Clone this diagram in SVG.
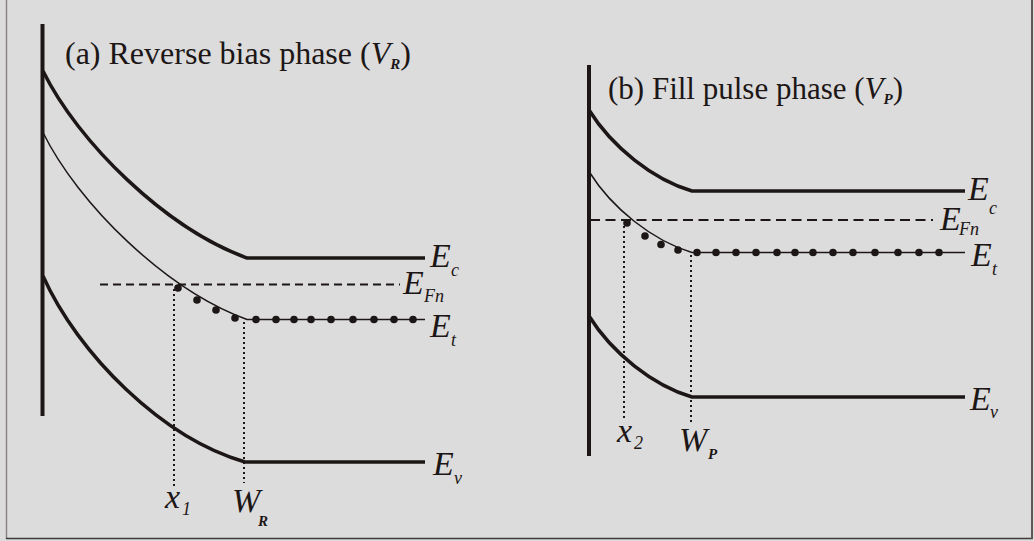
<svg xmlns="http://www.w3.org/2000/svg" width="1034" height="541" viewBox="0 0 1034 541">
<style>
.axis{stroke:#1c1716;stroke-width:4;fill:none}
.band{stroke:#1c1716;stroke-width:3.5;fill:none;stroke-linecap:butt}
.thin{stroke:#1c1716;stroke-width:1.5;fill:none}
.dash{stroke:#1c1716;stroke-width:2;fill:none}
.dot{stroke:#1c1716;stroke-width:2;fill:none;stroke-dasharray:2 3}
.trap{fill:#1c1716}
text{font-family:"Liberation Serif","Times New Roman",serif;fill:#1c1716}
.lab{font-size:34px;font-style:italic}
.sub{font-size:18px;font-style:italic}
.bsub{font-size:15px;font-style:italic;font-weight:bold}
</style>
<rect x="0" y="0" width="1034" height="541" fill="#dcdcdc"/>
<line x1="6.5" y1="0" x2="6.5" y2="539" stroke="#8a8582" stroke-width="1.5"/>
<line x1="6" y1="538.5" x2="1033" y2="538.5" stroke="#3f3a38" stroke-width="1.5"/>
<line x1="1032" y1="0" x2="1032" y2="539" stroke="#5e5856" stroke-width="2"/>

<g id="panel-a">
  <line class="axis" x1="42.5" y1="24" x2="42.5" y2="416"/>
  <path class="band" d="M43,71 C78,142 165,228 247,258 L425,258"/>
  <path class="thin" d="M43,132.5 C78,203.5 165,289.5 247,319.5 L425,319.5"/>
  <path class="band" d="M43,276 C78,354 162,438 245,462 L425,462"/>
  <line class="dash" x1="100" y1="284.5" x2="400" y2="284.5" stroke-dasharray="8 5"/>
  <line class="dot" x1="174" y1="289" x2="174" y2="486"/>
  <line class="dot" x1="244" y1="322" x2="244" y2="483"/>
  <g class="trap">
    <circle cx="178" cy="288" r="3.8"/>
    <circle cx="197" cy="300" r="3.8"/>
    <circle cx="216" cy="310" r="3.8"/>
    <circle cx="235" cy="318" r="3.8"/>
    <circle cx="256" cy="319.5" r="3.8"/>
    <circle cx="276" cy="319.5" r="3.8"/>
    <circle cx="294" cy="319.5" r="3.8"/>
    <circle cx="311" cy="319.5" r="3.8"/>
    <circle cx="331" cy="319.5" r="3.8"/>
    <circle cx="353" cy="319.5" r="3.8"/>
    <circle cx="374" cy="319.5" r="3.8"/>
    <circle cx="394" cy="319.5" r="3.8"/>
    <circle cx="413" cy="319.5" r="3.8"/>
  </g>
  <text x="65" y="63.5" font-size="32">(a) Reverse bias phase (<tspan font-style="italic">V</tspan><tspan class="bsub" dy="5">R</tspan><tspan dy="-5">)</tspan></text>
  <text class="lab" x="430" y="267">E</text><text class="sub" x="451" y="276">c</text>
  <text class="lab" x="403" y="294">E</text><text class="sub" x="424" y="302">Fn</text>
  <text class="lab" x="430" y="337">E</text><text class="sub" x="451" y="346">t</text>
  <text class="lab" x="433" y="475">E</text><text class="sub" x="454" y="484">v</text>
  <text class="lab" x="165" y="508">x</text><text class="sub" x="182" y="515">1</text>
  <text class="lab" x="232" y="512">W</text><text class="bsub" x="258" y="526">R</text>
</g>

<g id="panel-b">
  <line class="axis" x1="589" y1="65" x2="589" y2="456"/>
  <path class="band" d="M589,110 C612,147 653,179.4 692,191 L965,191"/>
  <path class="thin" d="M589,171.5 C612,208.5 653,240.9 692,252.5 L965,252.5"/>
  <path class="band" d="M589,316 C612,353 653,385.4 692,397 L965,397"/>
  <line class="dash" x1="590" y1="220" x2="933" y2="220" stroke-dasharray="10 5.5"/>
  <line class="dot" x1="624" y1="226" x2="624" y2="418"/>
  <line class="dot" x1="691" y1="255" x2="691" y2="423"/>
  <g class="trap">
    <circle cx="627" cy="223" r="3.8"/>
    <circle cx="645" cy="236" r="3.8"/>
    <circle cx="661" cy="244.5" r="3.8"/>
    <circle cx="678" cy="250" r="3.8"/>
    <circle cx="697" cy="252.5" r="3.8"/>
    <circle cx="716" cy="252.5" r="3.8"/>
    <circle cx="736" cy="252.5" r="3.8"/>
    <circle cx="756" cy="252.5" r="3.8"/>
    <circle cx="777" cy="252.5" r="3.8"/>
    <circle cx="795" cy="252.5" r="3.8"/>
    <circle cx="813" cy="252.5" r="3.8"/>
    <circle cx="833" cy="252.5" r="3.8"/>
    <circle cx="853" cy="252.5" r="3.8"/>
    <circle cx="875" cy="252.5" r="3.8"/>
    <circle cx="898" cy="252.5" r="3.8"/>
    <circle cx="919" cy="252.5" r="3.8"/>
    <circle cx="939" cy="252.5" r="3.8"/>
  </g>
  <text x="608" y="99" font-size="31">(b) Fill pulse phase (<tspan font-style="italic">V</tspan><tspan class="bsub" dy="5">P</tspan><tspan dy="-5">)</tspan></text>
  <text class="lab" x="968" y="200">E</text><text class="sub" x="989" y="214">c</text>
  <text class="lab" x="940" y="230">E</text><text class="sub" x="959" y="235">Fn</text>
  <text class="lab" x="971" y="266">E</text><text class="sub" x="992" y="275">t</text>
  <text class="lab" x="970" y="410">E</text><text class="sub" x="990" y="418">v</text>
  <text class="lab" x="617" y="442">x</text><text class="sub" x="634" y="449">2</text>
  <text class="lab" x="679" y="451">W</text><text class="bsub" x="708" y="459">P</text>
</g>
</svg>
